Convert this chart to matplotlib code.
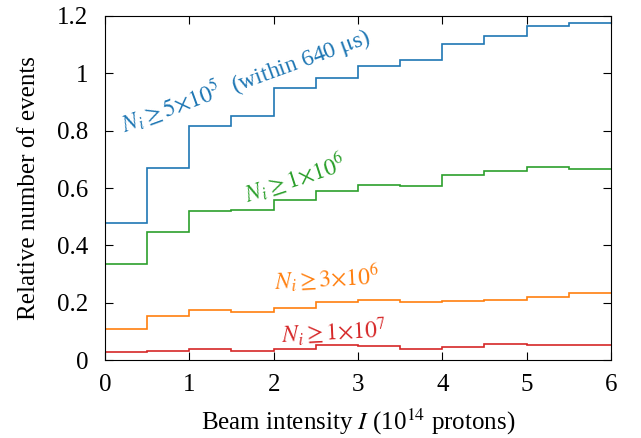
import numpy as np
import matplotlib.pyplot as plt

plt.rcParams['font.family'] = ['Liberation Serif', 'DejaVu Serif']
plt.rcParams['mathtext.fontset'] = 'stix'

# bin edges (10^14 protons)
edges = np.arange(0, 6.01, 0.5)

# relative number of events per bin
n5e5 = [0.477, 0.671, 0.817, 0.852, 0.950, 0.985, 1.027, 1.045, 1.101, 1.131, 1.166, 1.174]
n1e6 = [0.335, 0.445, 0.521, 0.523, 0.559, 0.591, 0.612, 0.606, 0.645, 0.661, 0.674, 0.666]
n3e6 = [0.109, 0.152, 0.173, 0.167, 0.181, 0.202, 0.209, 0.203, 0.207, 0.210, 0.221, 0.234]
n1e7 = [0.028, 0.032, 0.037, 0.030, 0.040, 0.051, 0.048, 0.038, 0.045, 0.057, 0.051, 0.052]

series = [n5e5, n1e6, n3e6, n1e7]
colors = ['#1f77b4', '#2ca02c', '#ff7f0e', '#d62728']
labels = [r'$N_i \geq 5{\times}10^5$  (within 640 $\mathrm{\mu}$s)',
          r'$N_i \geq 1{\times}10^6$',
          r'$N_i \geq 3{\times}10^6$',
          r'$N_i \geq 1{\times}10^7$']
# label placement: x, y, rotation
label_pos = [(1.66, 0.975, 20), (2.25, 0.635, 18), (2.63, 0.285, 3), (2.71, 0.10, 3)]

fig = plt.figure(figsize=(6.41, 4.38), dpi=100)
ax = fig.add_axes([0.1638, 0.178, 0.7894, 0.7855])

for vals, c in zip(series, colors):
    ax.stairs(vals, edges, color=c, lw=1.2, baseline=None)

for (x, y, r), txt, c in zip(label_pos, labels, colors):
    ax.text(x, y, txt, color=c, fontsize=17, rotation=r,
            ha='center', va='center', rotation_mode='anchor')

ax.set_xlim(0, 6)
ax.set_ylim(0, 1.2)
ax.set_xticks(range(7))
ax.set_yticks([0, 0.2, 0.4, 0.6, 0.8, 1.0, 1.2])
ax.set_yticklabels(['0', '0.2', '0.4', '0.6', '0.8', '1', '1.2'])
ax.tick_params(direction='in', top=True, right=True, labelsize=18, length=6)
ax.tick_params(axis='x', pad=10)
ax.tick_params(axis='y', pad=12)
ax.set_xlabel(r'Beam intensity $I$ (10$^{14}$ protons)', fontsize=18, labelpad=8)
ax.set_ylabel('Relative number of events', fontsize=18, labelpad=12)

fig.savefig('out.png', dpi=100)
